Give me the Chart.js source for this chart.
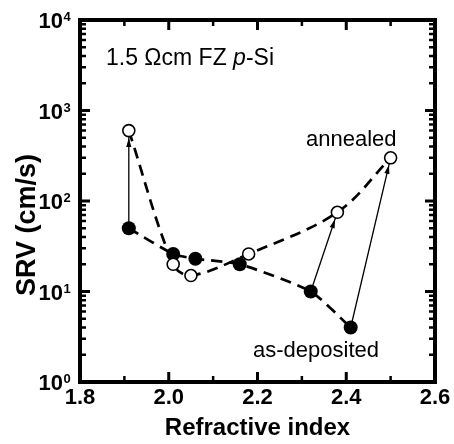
<!DOCTYPE html>
<html><head><meta charset="utf-8">
<script src="https://cdn.jsdelivr.net/npm/chart.js@4"></script>
<style>html,body{margin:0;padding:0;background:#fff}#c{display:block}</style>
</head><body>
<canvas id="c" width="454" height="444"></canvas>
<script>
// ---- data ----
const refractiveAsDep = [1.91, 2.01, 2.06, 2.16, 2.32, 2.41];
const srvAsDep        = [50,   26,   23,   20,   10,   4];
const refractiveAnn   = [1.91, 2.01, 2.05, 2.18, 2.38, 2.50];
const srvAnn          = [600,  20,   15,   26,   75,   300];
const arrowPairs      = [[0, 0], [4, 4], [5, 5]]; // as-deposited index -> annealed index
const xTickValues     = [1.8, 2.0, 2.2, 2.4, 2.6];
const xMinorValues    = [1.9, 2.1, 2.3, 2.5];
const yDecades        = [0, 1, 2, 3, 4];
const xTitle = 'Refractive index';
const yTitle = 'SRV (cm/s)';
const sampleParts = [['1.5 \u03A9cm FZ ', false], ['p', true], ['-Si', false]];
const labelAnnealed = 'annealed';
const labelAsDep = 'as-deposited';

const FONT = '"Liberation Sans", Arial, Helvetica, sans-serif';
const toPts = (xs, ys) => xs.map((x, i) => ({x: x, y: ys[i]}));

const arrowDatasets = arrowPairs.map(([a, b]) => ({
  label: 'arrow',
  data: [{x: refractiveAsDep[a], y: srvAsDep[a]}, {x: refractiveAnn[b], y: srvAnn[b]}],
  showLine: true, borderColor: '#000', borderWidth: 1.3, pointRadius: 0,
  order: 3, isArrow: true
}));

const framePlugin = {
  id: 'frameTicks',
  afterDatasetDraw(chart, args) {
    const ds = chart.data.datasets[args.index];
    if (!ds.isArrow) return;
    const pts = args.meta.data;
    const p0 = pts[0], p1 = pts[1];
    const dx = p1.x - p0.x, dy = p1.y - p0.y;
    const L = Math.hypot(dx, dy);
    const ux = dx / L, uy = dy / L;
    const tipX = p1.x - ux * 7.3, tipY = p1.y - uy * 7.3;
    const len = 9, half = 2.6;
    const bx = tipX - ux * len, by = tipY - uy * len;
    const ctx = chart.ctx;
    ctx.save();
    ctx.fillStyle = '#000';
    ctx.beginPath();
    ctx.moveTo(tipX, tipY);
    ctx.lineTo(bx - uy * half, by + ux * half);
    ctx.lineTo(bx + uy * half, by - ux * half);
    ctx.closePath();
    ctx.fill();
    ctx.restore();
  },
  afterDraw(chart) {
    const {ctx, chartArea: ca, scales} = chart;
    const xs = scales.x, ys = scales.y;
    ctx.save();
    ctx.strokeStyle = '#000';
    ctx.fillStyle = '#000';
    // ticks
    const majorLen = 10, minorLen = 6;
    const tickX = (v, len, w) => {
      const px = xs.getPixelForValue(v);
      ctx.lineWidth = w;
      ctx.beginPath();
      ctx.moveTo(px, ca.bottom); ctx.lineTo(px, ca.bottom - len);
      ctx.moveTo(px, ca.top); ctx.lineTo(px, ca.top + len);
      ctx.stroke();
    };
    const tickY = (v, len, w) => {
      const py = ys.getPixelForValue(v);
      ctx.lineWidth = w;
      ctx.beginPath();
      ctx.moveTo(ca.left, py); ctx.lineTo(ca.left + len, py);
      ctx.moveTo(ca.right, py); ctx.lineTo(ca.right - len, py);
      ctx.stroke();
    };
    xTickValues.forEach(v => tickX(v, majorLen, 3));
    xMinorValues.forEach(v => tickX(v, minorLen, 2.5));
    yDecades.forEach(k => {
      tickY(Math.pow(10, k), majorLen, 3);
      if (k < 4) for (let m = 2; m <= 9; m++) tickY(m * Math.pow(10, k), minorLen, 2.5);
    });
    // frame
    ctx.lineWidth = 4;
    ctx.strokeRect(ca.left, ca.top, ca.right - ca.left, ca.bottom - ca.top);

    // y tick labels with superscripts
    yDecades.forEach(k => {
      const py = ys.getPixelForValue(Math.pow(10, k));
      ctx.textBaseline = 'alphabetic';
      ctx.textAlign = 'right';
      ctx.font = 'bold 22px ' + FONT;
      ctx.fillText('10', ca.left - 17, py + 8);
      ctx.textAlign = 'left';
      ctx.font = 'bold 13px ' + FONT;
      ctx.fillText(String(k), ca.left - 16.5, py + 1);
    });

    // axis titles
    ctx.textAlign = 'center';
    ctx.textBaseline = 'alphabetic';
    ctx.font = 'bold 24px ' + FONT;
    ctx.fillText(xTitle, (ca.left + ca.right) / 2, 435);
    ctx.save();
    ctx.translate(35, (ca.top + ca.bottom) / 2 + 24);
    ctx.rotate(-Math.PI / 2);
    ctx.font = 'bold 27px ' + FONT;
    ctx.fillText(yTitle, 0, 0);
    ctx.restore();

    // annotations
    ctx.textAlign = 'left';
    let tx = ca.left + 26;
    sampleParts.forEach(([s, it]) => {
      ctx.font = (it ? 'italic ' : '') + '23px ' + FONT;
      ctx.fillText(s, tx, ca.top + 45);
      tx += ctx.measureText(s).width;
    });
    ctx.font = '22px ' + FONT;
    ctx.fillText(labelAnnealed, 306, 146);
    ctx.fillText(labelAsDep, 253, 357);
    ctx.restore();
  }
};

new Chart(document.getElementById('c'), {
  type: 'scatter',
  data: {
    datasets: [
      {label: 'annealed trend', data: toPts(refractiveAnn, srvAnn), showLine: true,
       borderColor: '#000', borderWidth: 2.7, borderDash: [11, 7], pointRadius: 0,
       tension: 0.35, order: 5},
      {label: 'as-deposited trend', data: toPts(refractiveAsDep, srvAsDep), showLine: true,
       borderColor: '#000', borderWidth: 2.7, borderDash: [11, 7], pointRadius: 0,
       tension: 0.2, order: 5},
      ...arrowDatasets,
      {label: 'annealed', data: toPts(refractiveAnn, srvAnn), showLine: false,
       pointRadius: 6, pointBackgroundColor: '#fff', pointBorderColor: '#000',
       pointBorderWidth: 1.6, order: 1},
      {label: 'as-deposited', data: toPts(refractiveAsDep, srvAsDep), showLine: false,
       pointRadius: 7, pointBackgroundColor: '#000', pointBorderColor: '#000',
       pointBorderWidth: 0, order: 1}
    ]
  },
  options: {
    responsive: false,
    animation: false,
    devicePixelRatio: 1,
    layout: {padding: {left: 0, right: 19, top: 20, bottom: 0}},
    plugins: {legend: {display: false}, tooltip: {enabled: false}},
    scales: {
      x: {
        type: 'linear', position: 'bottom', min: 1.8, max: 2.6,
        afterBuildTicks: s => { s.ticks = xTickValues.map(v => ({value: v})); },
        ticks: {
          color: '#000', padding: 3, maxRotation: 0, autoSkip: false,
          font: {family: FONT, size: 22, weight: 'bold'},
          callback: v => Number(v).toFixed(1)
        },
        grid: {display: false, drawTicks: false},
        border: {display: false},
        afterFit: s => { s.height = 62; }
      },
      y: {
        type: 'logarithmic', position: 'left', min: 1, max: 10000,
        ticks: {display: false},
        grid: {display: false, drawTicks: false},
        border: {display: false},
        afterFit: s => { s.width = 80; }
      }
    }
  },
  plugins: [framePlugin]
});
</script>
</body></html>
